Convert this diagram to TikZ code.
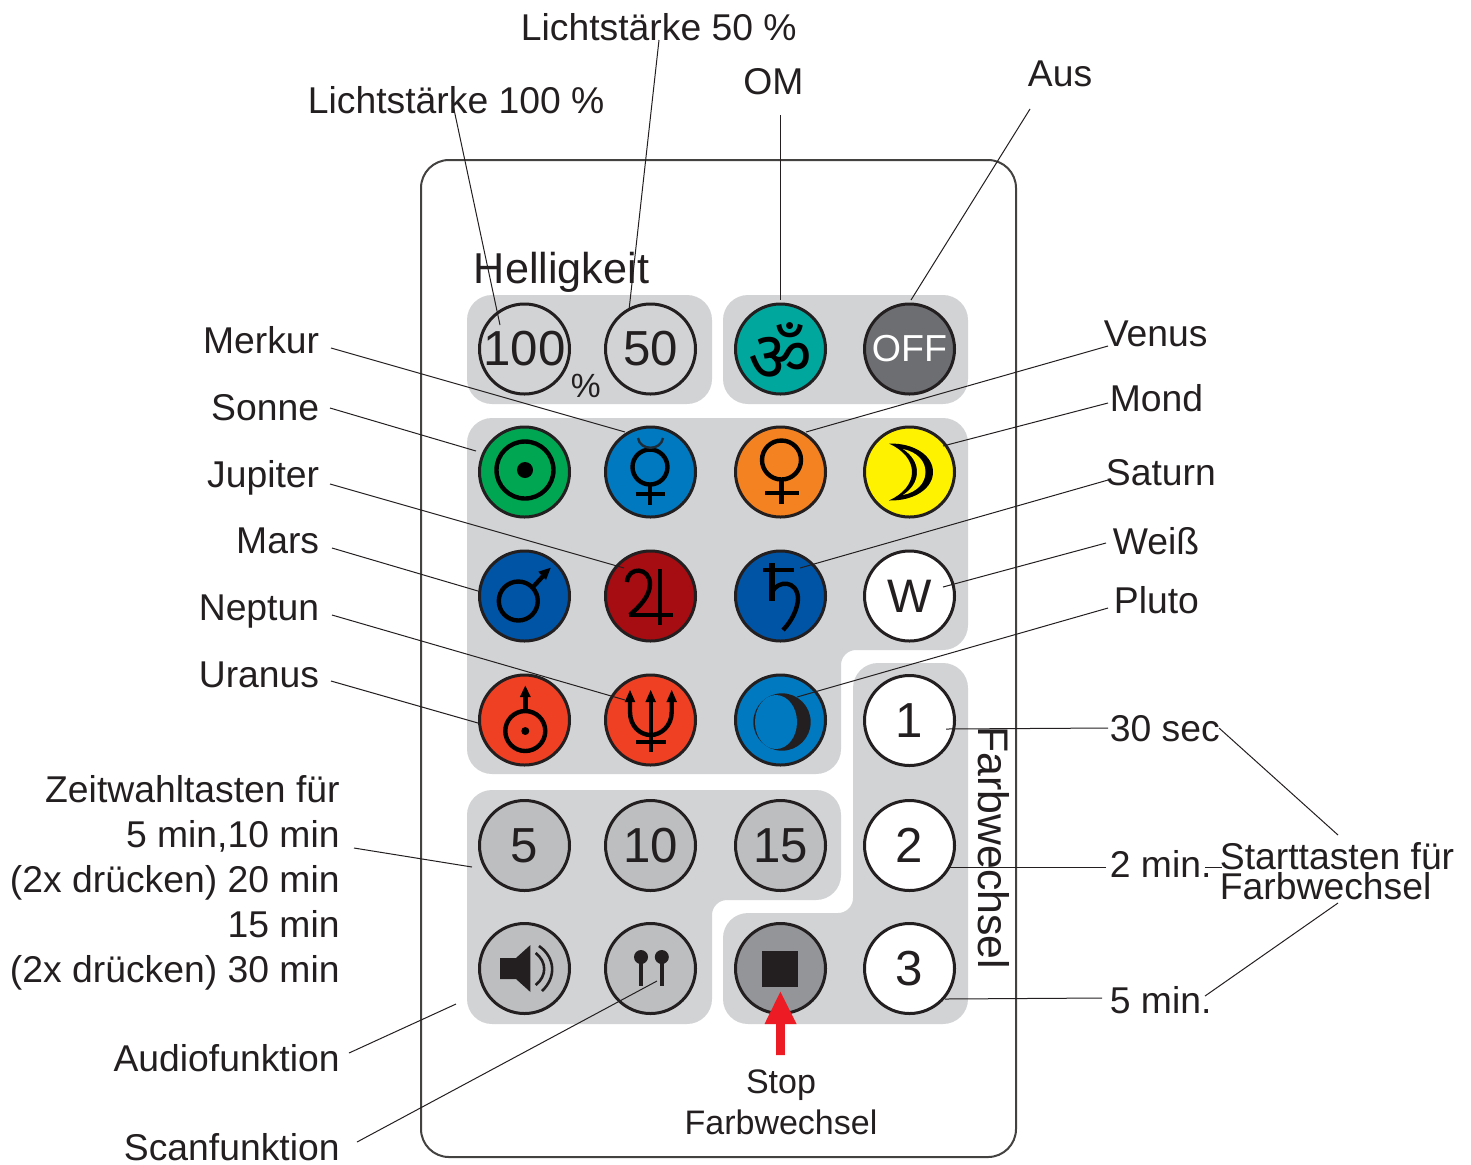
\documentclass[tikz,border=0pt]{standalone}
\usepackage{fontspec}
\setmainfont{Liberation Sans}
\newfontfamily\devfont[Script=Devanagari]{Noto Sans}
\definecolor{ink}{HTML}{231F20}
\definecolor{panelgrey}{HTML}{D1D3D4}
\definecolor{keygrey}{HTML}{BCBEC0}
\definecolor{stopgrey}{HTML}{939598}
\definecolor{omgreen}{HTML}{00A79D}
\definecolor{offgrey}{HTML}{6D6E71}
\definecolor{sungreen}{HTML}{00A651}
\definecolor{lightblue}{HTML}{0079C1}
\definecolor{venusorange}{HTML}{F58220}
\definecolor{moonyellow}{HTML}{FFF200}
\definecolor{darkblue}{HTML}{0054A6}
\definecolor{jupred}{HTML}{A50D12}
\definecolor{urared}{HTML}{F04023}
\definecolor{arrowred}{HTML}{ED1C24}
\tikzset{
  x=0.5pt,y=-0.5pt,
  panel/.style={fill=panelgrey,draw=none,rounded corners=12.5pt},
  btn/.style={circle,draw=ink,line width=1.5pt,minimum size=45pt,inner sep=0pt,text=ink},
  lab/.style={inner sep=0pt,text=ink,font=\fontsize{18.65pt}{22.45pt}\selectfont},
  numkey/.style={font=\fontsize{24.6pt}{28pt}\selectfont},
  lead/.style={draw=ink,line width=0.5pt},
  sym/.style={draw=black,line width=2.2pt},
}
\begin{document}
\begin{tikzpicture}
\useasboundingbox (0,0) rectangle (1471,1164);
% housing
\draw[draw=ink!85,line width=1pt,rounded corners=14pt] (421,160) rectangle (1016,1157);
% panels
\fill[panel] (467,295) rectangle (712,404);
\fill[panel] (723,295) rectangle (968,404);
\fill[panel] (467,418) -- (968,418) -- (968,650) [rounded corners=7.5pt] -- (841,650) [rounded corners=12.5pt] -- (841,774) -- (467,774) -- cycle;
\fill[panel] (467,790) -- (841,790) -- (841,900) [rounded corners=7.5pt] -- (712,900) [rounded corners=12.5pt] -- (712,1024) -- (467,1024) -- cycle;
\fill[panel] (853,663) -- (968,663) -- (968,1024) -- (723,1024) -- (723,913) [rounded corners=7.5pt] -- (853,913) [rounded corners=12.5pt] -- cycle;
% buttons
\node[btn,numkey] (b100) at (524.5,349) {100};
\node[btn,numkey] (b50) at (650.5,349) {50};
\node[btn,fill=omgreen] (bom) at (780.5,349) {};
\node[btn,fill=offgrey,text=white,font=\fontsize{18.8pt}{22pt}\selectfont] (boff) at (909.5,349) {OFF};
\node[btn,fill=sungreen] (bsun) at (524.5,472) {};
\node[btn,fill=lightblue] (bmerc) at (650.5,472) {};
\node[btn,fill=venusorange] (bven) at (780.5,472) {};
\node[btn,fill=moonyellow] (bmoon) at (909.5,472) {};
\node[btn,fill=darkblue] (bmars) at (524.5,596) {};
\node[btn,fill=jupred] (bjup) at (650.5,596) {};
\node[btn,fill=darkblue] (bsat) at (780.5,596) {};
\node[btn,fill=white,font=\fontsize{23.5pt}{26pt}\selectfont] (bw) at (909.5,596) {W};
\node[btn,fill=urared] (bura) at (524.5,720) {};
\node[btn,fill=urared] (bnep) at (650.5,720) {};
\node[btn,fill=lightblue] (bplu) at (780.5,720) {};
\node[btn,fill=white,numkey] (b1) at (909.5,720.5) {1};
\node[btn,fill=keygrey,numkey] (b5) at (524.5,845.5) {5};
\node[btn,fill=keygrey,numkey] (b10) at (650.5,845.5) {10};
\node[btn,fill=keygrey,numkey] (b15) at (780.5,845.5) {15};
\node[btn,fill=white,numkey] (b2) at (909.5,845.5) {2};
\node[btn,fill=keygrey] (baudio) at (524.5,968.5) {};
\node[btn,fill=keygrey] (bscan) at (650.5,968.5) {};
\node[btn,fill=stopgrey] (bstop) at (780.5,968.5) {};
\node[btn,fill=white,numkey] (b3) at (909.5,968.5) {3};
% om
\node[inner sep=0pt,text=black,font=\devfont\fontsize{35pt}{36pt}\selectfont] (omsym) at (780.5,352) {ॐ};
% sun
\draw[sym] (525,470) circle (28.5);
\fill[black] (525,470) circle (8);
% mercury
\draw[sym] (650,467) circle (17.5);
\draw[sym] (650,485) -- (650,505) (635.5,494) -- (665,494);
\draw[draw=ink!85!lightblue,line width=1.2pt] (638,438) .. controls (640,451) and (661,451) .. (663,438);
% venus
\draw[sym] (781.5,460) circle (19.5);
\draw[sym] (781.5,480) -- (781.5,504) (765,493) -- (799,493);
% moon
\fill[black] (889,443.5) .. controls (915,443) and (933,456) .. (933,472) .. controls (933,488) and (915,501) .. (889,500.5) .. controls (903,494) and (912,484) .. (912,472) .. controls (912,460) and (903,450) .. cycle;
\fill[moonyellow] (903,449) .. controls (917,452) and (925.5,461) .. (925.5,472) .. controls (925.5,483) and (917,492) .. (903,495) .. controls (912,489) and (917,481) .. (917,472) .. controls (917,463) and (912,455) .. cycle;
% mars
\draw[sym] (518.3,601) circle (19.5);
\draw[sym] (533,587) -- (545,574);
\fill[black] (550.7,567.7) -- (538.3,571.7) -- (546,580) -- cycle;
% jupiter
\draw[sym] (660,569) -- (660,625) (629,615) -- (673,615);
\draw[sym] (627,582) .. controls (628,566) and (650,567) .. (650,584) .. controls (650,596) and (640,606) .. (630,615);
% saturn
\draw[sym,line width=3pt] (772,563) -- (772,601);
\draw[sym] (763,570) -- (794,570);
\draw[sym] (772,592) .. controls (778,580) and (797,580) .. (798,598) .. controls (798,608) and (792,621) .. (783,630);
% uranus
\draw[sym] (525.3,731) circle (20);
\fill[black] (525.3,731) circle (4);
\draw[sym] (525.3,711) -- (525.3,695);
\fill[black] (525.3,685.7) -- (519.8,697) -- (530.8,697) -- cycle;
% neptune
\draw[sym] (650.7,697) -- (650.7,752) (636,742) -- (666,742);
\draw[sym] (630,697) -- (630,712) .. controls (630,726) and (640,735) .. (650.7,735) .. controls (661,735) and (671.7,726) .. (671.7,712) -- (671.7,697);
\foreach \tipx in {630,650.7,671.7} {\fill[black] (\tipx,690) -- (\tipx-5.3,702) -- (\tipx+5.3,702) -- cycle;}
% pluto
\fill[ink] (782,722) circle (28.7);
\fill[lightblue] (776,722) ellipse (21 and 27);
% speaker
\fill[ink] (500,958) -- (516,958) -- (530.4,945) -- (530.4,992) -- (516,979) -- (500,979) -- cycle;
\draw[ink,line width=1.3pt] (539,946) .. controls (556,958) and (556,978) .. (542,991);
\draw[ink,line width=1.3pt] (535.7,953) .. controls (547,962) and (547,976) .. (535.7,985);
% scan
\fill[ink] (641,957) circle (7);
\fill[ink] (661.8,957) circle (7);
\draw[ink,line width=1.7pt] (641,957) -- (641,986) (661.8,957) -- (661.8,986);
% stop
\fill[ink] (762,951) rectangle (798,987);
% labels in panels
\node[lab,anchor=base west,font=\fontsize{21.6pt}{24pt}\selectfont] (lhell) at (473.5,283) {Helligkeit};
\node[lab,anchor=base west,font=\fontsize{16.8pt}{20pt}\selectfont] (lpct) at (570.5,397) {\%};
\node[lab,anchor=base west,rotate=-90,font=\fontsize{21.4pt}{24pt}\selectfont] (lfarb) at (978,726) {Farbwechsel};
% labels
\node[lab,anchor=base west] (l50) at (520.5,40) {Lichtstärke 50 \%};
\node[lab,anchor=base west] (l100) at (307.5,113) {Lichtstärke 100 \%};
\node[lab,anchor=base west] (lom) at (743,94) {OM};
\node[lab,anchor=base west] (laus) at (1027.5,86) {Aus};
\node[lab,anchor=base east] (lmerkur) at (319.5,353) {Merkur};
\node[lab,anchor=base east] (lsonne) at (319.5,420) {Sonne};
\node[lab,anchor=base east] (ljup) at (319.5,487) {Jupiter};
\node[lab,anchor=base east] (lmars) at (319.5,553) {Mars};
\node[lab,anchor=base east] (lnep) at (319.5,620) {Neptun};
\node[lab,anchor=base east] (lura) at (319.5,687) {Uranus};
\node[lab,anchor=base west] (lven) at (1103.5,346) {Venus};
\node[lab,anchor=base west] (lmond) at (1109.5,411) {Mond};
\node[lab,anchor=base west] (lsat) at (1105.5,485) {Saturn};
\node[lab,anchor=base west] (lweiss) at (1112.5,554) {Weiß};
\node[lab,anchor=base west] (lplu) at (1113.5,613) {Pluto};
\node[lab,anchor=base west] (l30) at (1109.5,741) {30 sec};
\node[lab,anchor=base west] (l2) at (1109.5,877) {2 min.};
\node[lab,anchor=base west] (l5) at (1109.5,1013) {5 min.};
\node[lab,anchor=base west] (lstart) at (1219.5,869) {Starttasten für};
\node[lab,anchor=base west] (lfw) at (1219.5,899) {Farbwechsel};
\node[lab,anchor=north east,align=right] (lzeit) at (340,775) {Zeitwahltasten für\\5 min,10 min\\(2x drücken) 20 min\\15 min\\(2x drücken) 30 min};
\node[lab,anchor=base east] (laudio) at (340,1071) {Audiofunktion};
\node[lab,anchor=base east] (lscan) at (340,1160) {Scanfunktion};
\node[lab,anchor=north,align=center,font=\fontsize{17pt}{20.5pt}\selectfont] (lstop) at (781,1069) {Stop\\Farbwechsel};
% connector ends
\foreach \n/\x/\y in {a1/452/100,a2/500/325,b1/659/40,b2/629/310,c1/780/115,c2/780/300,d1/1030/109,d2/911/300,
 e1/331/348,e2/625/432,f1/330/408,f2/476/451,g1/330/484,g2/624/568,h1/332/548,h2/478/591,i1/332/615,i2/625/700,j1/331/681,j2/478/723,
 k1/1108/346,k2/806/432,m1/1108/403,m2/943/446,n1/1108/480,n2/800/568,o1/1106/543,o2/943/587,p1/1108/608,p2/797/697,
 q1/1108/728,q2/946/729,r1/1106/867,r2/947/867,s1/1102/998,s2/945/999,t1/354/848,t2/472/867,u1/349/1053,u2/456/1004,v1/357/1142,v2/657/981,
 w1/1219/728,w2/1338/835,y1/1205/996,y2/1338/903,z1/1205/867,z2/1222/867}
  {\coordinate (\n) at (\x,\y);}
\foreach \s in {a,b,c,d,e,f,g,h,i,j,k,m,n,o,p,q,r,s,t,u,v,w,y,z}
  {\draw[lead] (\s1) -- (\s2);}
% red arrow
\fill[arrowred] (780.4,991.7) -- (796.5,1024) -- (784.8,1024) -- (784.8,1055) -- (776,1055) -- (776,1024) -- (764.5,1024) -- cycle;
\end{tikzpicture}
\end{document}
